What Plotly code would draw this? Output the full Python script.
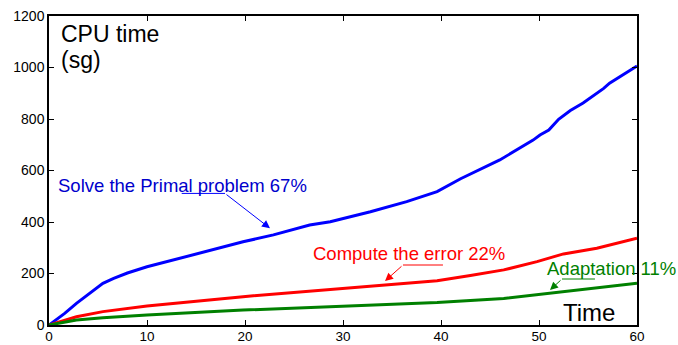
import plotly.graph_objects as go

# Data (time in s, cumulative CPU time in sg)
primal_t = [0, 1.6, 2.8, 4.2, 5.5, 6.6, 8, 10, 12, 13.7, 16, 19.8, 22.9, 26.6, 28.7,
            32.8, 36.5, 39.6, 42, 46, 49.4, 50.1, 51, 52, 53.2, 54.5, 56.6, 57.2, 60]
primal_v = [0, 45, 84, 125, 162, 181, 202, 226, 246, 263, 286, 323, 350, 388, 401,
            440, 479, 518, 568, 641, 718, 738, 757, 799, 833, 862, 919, 939, 1006]
error_t = [0, 2.8, 5.5, 10, 19.8, 28.7, 34.1, 39.6, 43, 46.4, 49.8, 52.5, 55.9, 60]
error_v = [0, 32, 52, 74, 110, 139, 155, 172, 192, 214, 246, 276, 298, 337]
adapt_t = [0, 2.8, 5.5, 10, 19.8, 28.7, 39.6, 46.4, 50.5, 60]
adapt_v = [0, 19, 28, 39, 58, 71, 87, 103, 120, 162]

x_ticks = [0, 10, 20, 30, 40, 50, 60]
y_ticks = [0, 200, 400, 600, 800, 1000, 1200]

FONT = "Liberation Sans, Arial, sans-serif"

fig = go.Figure()
fig.add_trace(go.Scatter(x=primal_t, y=primal_v, mode="lines",
                         line=dict(color="#0000FF", width=3), showlegend=False))
fig.add_trace(go.Scatter(x=error_t, y=error_v, mode="lines",
                         line=dict(color="#FF0000", width=3), showlegend=False))
fig.add_trace(go.Scatter(x=adapt_t, y=adapt_v, mode="lines",
                         line=dict(color="#008000", width=3), showlegend=False))

def label(x, y, text, color, size=18.5, xanchor="left", yanchor="middle",
          xref="x", yref="y"):
    fig.add_annotation(x=x, y=y, xref=xref, yref=yref, text=text, showarrow=False,
                       xanchor=xanchor, yanchor=yanchor, align="left",
                       font=dict(family=FONT, size=size, color=color))

def pointer(x0, x1, y, tipx, tipy, color):
    fig.add_shape(type="line", x0=x0, x1=x1, y0=y, y1=y, xref="x", yref="y",
                  line=dict(color=color, width=1))
    fig.add_annotation(x=tipx, y=tipy, ax=x1 if tipx > x1 else x0, ay=y,
                       xref="x", yref="y", axref="x", ayref="y", text="",
                       showarrow=True, arrowhead=2, arrowsize=1.6, arrowwidth=1,
                       arrowcolor=color)

label(0.67, 543.7, "Solve the Primal problem 67%", "#0000CC")
label(26.69, 276.9, "Compute the error 22%", "#FF0000")
label(50.6, 217.9, "Adaptation 11%", "#008000")
label(1.07, 0.9408, "CPU time", "#000000", size=23, yref="paper")
label(1.07, 0.8573, "(sg)", "#000000", size=23, yref="paper")
label(52.2, 50.5, "Time", "#000000", size=24)

pointer(13.54, 17.96, 511, 22.55, 375.5, "#0000FF")
pointer(36.12, 40.2, 233, 34.29, 171, "#FF0000")
pointer(52.35, 55.71, 178.6, 51.12, 136, "#008000")

axis_common = dict(showline=True, linecolor="black", linewidth=1.5, mirror="ticks",
                   ticks="inside", ticklen=5, tickcolor="black", tickwidth=1,
                   showgrid=False, zeroline=False, automargin=False)
fig.update_xaxes(range=[0, 60], tickvals=x_ticks, ticklabelstandoff=-2,
                 tickfont=dict(family=FONT, size=13.5, color="black"), **axis_common)
fig.update_yaxes(range=[0, 1200], tickvals=y_ticks,
                 tickfont=dict(family=FONT, size=14, color="black"), **axis_common)

fig.update_layout(width=678, height=345, margin=dict(l=49, r=41, t=16, b=20),
                  plot_bgcolor="white", paper_bgcolor="white",
                  font=dict(family=FONT))
fig.write_html("out.html")
